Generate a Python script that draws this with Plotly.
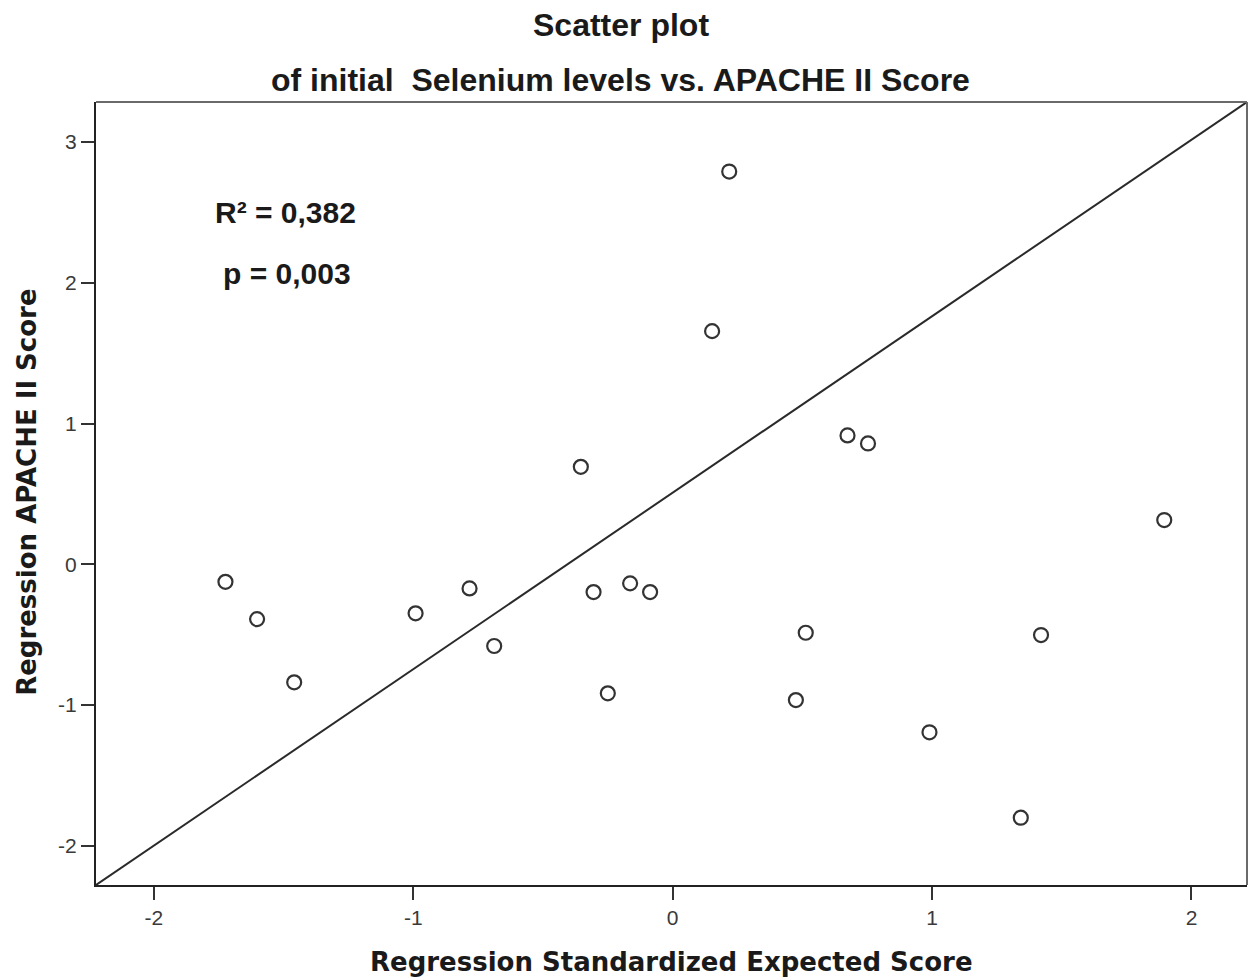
import plotly.graph_objects as go

# Standardized expected score (x) vs. APACHE II regression score (y)
expected_score = [-1.724, -1.602, -1.459, -0.991, -0.783, -0.688, -0.354, -0.305,
                  -0.250, -0.164, -0.087, 0.152, 0.218, 0.475, 0.513, 0.674,
                  0.753, 0.990, 1.342, 1.420, 1.895]
apache_score = [-0.124, -0.389, -0.838, -0.348, -0.171, -0.580, 0.693, -0.197,
                -0.916, -0.135, -0.197, 1.657, 2.791, -0.964, -0.486, 0.916,
                0.859, -1.193, -1.800, -0.502, 0.315]

# Reference line endpoints
line_x = [-2.223, 2.214]
line_y = [-2.278, 3.285]

x_ticks = [-2, -1, 0, 1, 2]
y_ticks = [-2, -1, 0, 1, 2, 3]

x_range = [-2.223, 2.214]
y_range = [-2.278, 3.285]

stats_lines = ["R² = 0,382", "p = 0,003"]

fig = go.Figure()

fig.add_trace(go.Scatter(
    x=line_x, y=line_y, mode="lines",
    line=dict(color="#2a2a2a", width=2),
    hoverinfo="skip", showlegend=False,
))

fig.add_trace(go.Scatter(
    x=expected_score, y=apache_score, mode="markers",
    marker=dict(symbol="circle-open", size=14, color="#333333",
                line=dict(width=2.2, color="#333333")),
    showlegend=False,
))

axis_common = dict(
    showgrid=False, zeroline=False, showline=True,
    linecolor="#222222", linewidth=2,
    ticks="outside", ticklen=13, tickwidth=2, tickcolor="#333333",
    tickfont=dict(family="Liberation Sans, Arial, sans-serif", size=21, color="#3a3a3a"),
)

fig.update_xaxes(range=x_range, tickvals=x_ticks, ticktext=[str(v) for v in x_ticks],
                 **axis_common)
fig.update_yaxes(range=y_range, tickvals=y_ticks, ticktext=[str(v) for v in y_ticks],
                 **axis_common)

# Top and right frame edges
fig.add_shape(type="line", xref="paper", yref="paper", x0=0, x1=1, y0=1, y1=1,
              line=dict(color="#6a6a6a", width=2))
fig.add_shape(type="line", xref="paper", yref="paper", x0=1, x1=1, y0=0, y1=1,
              line=dict(color="#6a6a6a", width=2))

title_font = dict(family="Liberation Sans, Arial, sans-serif", size=32, color="#1a1a1a")
fig.add_annotation(text="<b>Scatter plot</b>", xref="paper", yref="paper",
                   x=0.456, y=1.098, showarrow=False, font=title_font,
                   xanchor="center", yanchor="middle")
fig.add_annotation(text="<b>of initial  Selenium levels vs. APACHE II Score</b>",
                   xref="paper", yref="paper", x=0.456, y=1.028, showarrow=False,
                   font=title_font, xanchor="center", yanchor="middle")

axis_title_font = dict(family="DejaVu Sans, Verdana, sans-serif", size=26, color="#1a1a1a")
fig.add_annotation(text="<b>Regression Standardized Expected Score</b>",
                   xref="paper", yref="paper", x=0.5, y=-0.0985, showarrow=False,
                   font=axis_title_font, xanchor="center", yanchor="middle")
fig.add_annotation(text="<b>Regression APACHE II Score</b>",
                   xref="paper", yref="paper", x=-0.060, y=0.502, showarrow=False,
                   font=axis_title_font, textangle=-90,
                   xanchor="center", yanchor="middle")

stat_font = dict(family="Liberation Sans, Arial, sans-serif", size=30, color="#1a1a1a")
fig.add_annotation(text="<b>" + stats_lines[0] + "</b>", xref="paper", yref="paper",
                   x=0.165, y=0.859, showarrow=False, font=stat_font,
                   xanchor="center", yanchor="middle")
fig.add_annotation(text="<b>" + stats_lines[1] + "</b>", xref="paper", yref="paper",
                   x=0.166, y=0.781, showarrow=False, font=stat_font,
                   xanchor="center", yanchor="middle")

fig.update_layout(
    width=1248, height=978,
    margin=dict(l=96, r=1, t=102, b=93),
    paper_bgcolor="white", plot_bgcolor="white",
)

fig.write_html("out.html")
